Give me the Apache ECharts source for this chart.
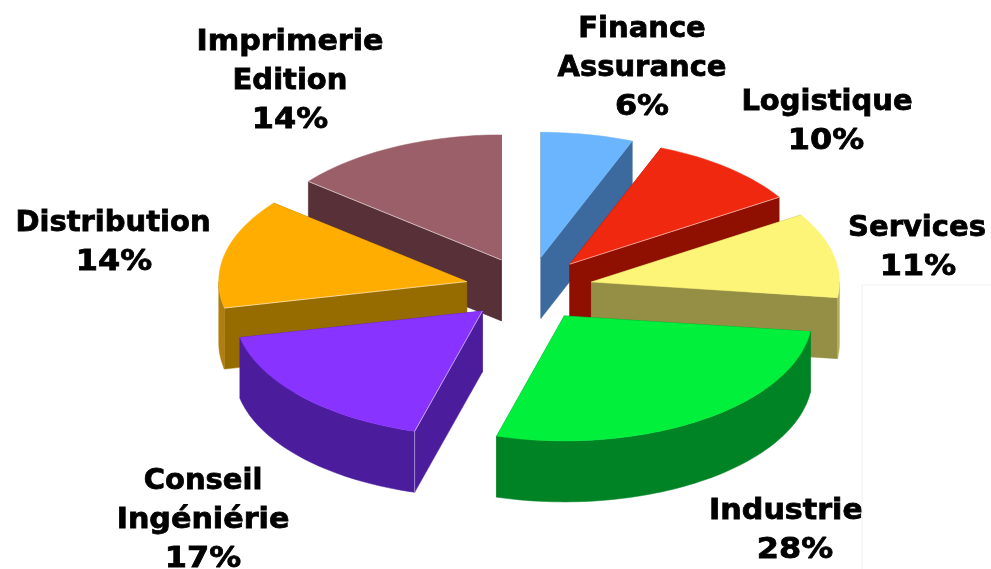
<!DOCTYPE html>
<meta charset='utf-8'>
<title>secteurs</title>
<style>
body {
    margin: 0;
    background: #fff;
}
#echart {
    height: 569px;
    width: 991px;
}
</style>
<div id='echart'></div>
<script src='https://cdn.jsdelivr.net/npm/echarts@6/dist/echarts.min.js'></script>
<script>
// clockwise from 12 o'clock
let names = ['Finance\nAssurance', 'Logistique', 'Services', 'Industrie', 'Conseil\nIngéniérie', 'Distribution', 'Imprimerie\nEdition']
let percent_labels = ['6%', '10%', '11%', '28%', '17%', '14%', '14%']
// shares as drawn (the printed labels are rounded)
let shares = [6, 10, 11, 27.4, 17.2, 14.2, 14.2]

let top_colors = ['#6bb5ff', '#f0280f', '#fdf577', '#00f03c', '#8833ff', '#ffad00', '#9a5f68']
let wall_colors = ['#3d6a9e', '#8f0f00', '#958f45', '#008325', '#4b1d9c', '#966b00', '#583038']
let arc_colors = ['#3d6a9e', '#8f0f00', '#b5ad5c', '#008325', '#4b1d9c', '#b07e10', '#583038']
// back to front
let draw_order = [0, 6, 1, 5, 2, 4, 3]
// which radial edge catches the light
let lit_edges = [null, 'end', null, null, 'start', 'start', 'start']
let label_centers = [[642, 29], [827, 102], [917, 228], [786, 511], [203, 481], [113, 223], [290, 42]]
let percent_x = [642, 826, 918, 795, 203, 114, 290]

let EXPLODE = 0.258
let DEPTH = 0.488
let ARC_STEP = 1.5
let LINE_HEIGHT = 39

let echart = echarts.init(document.querySelector('#echart'))

let cumulative = 0
let wedges = shares.map(function (share) {
    let start = cumulative / 100 * 360
    cumulative += share
    return [start, cumulative / 100 * 360]
})
let data = draw_order.map(function (i) {
    return [wedges[i][0], wedges[i][1], i]
})

function point(angle, radius, origin) {
    let rad = angle * Math.PI / 180
    return [origin[0] + radius * Math.sin(rad), origin[1] + radius * Math.cos(rad)]
}

function arc_points(from, to, origin, drop) {
    let points = []
    for (let a = from; a < to; a += ARC_STEP)
        points.push(point(a, 1, [origin[0], origin[1] - drop]))
    points.push(point(to, 1, [origin[0], origin[1] - drop]))
    return points
}

function render_slice(params, api) {
    let start = api.value(0)
    let end = api.value(1)
    let i = api.value(2)
    let apex = point((start + end) / 2, EXPLODE, [0, 0])
    let down = [apex[0], apex[1] - DEPTH]
    let shape = function (points, fill) {
        return {
            type: 'polygon',
            shape: {points: points.map(p => api.coord(p))},
            style: {fill, stroke: fill, lineWidth: 0.5},
            silent: true,
        }
    }
    let radial = function (angle) {
        return shape([apex, point(angle, 1, apex), point(angle, 1, down), down], wall_colors[i])
    }
    let children = [radial(start), radial(end)]
    // the curved wall only shows on the front half
    let arc_from = Math.max(start, 90)
    let arc_to = Math.min(end, 270)
    if (arc_from < arc_to)
        children.push(shape(arc_points(arc_from, arc_to, apex, 0).concat(arc_points(arc_from, arc_to, apex, DEPTH).reverse()), arc_colors[i]))
    children.push(shape([apex].concat(arc_points(start, end, apex, 0)), top_colors[i]))
    if (lit_edges[i]) {
        let angle = lit_edges[i] == 'end' ? end : start
        let outer = point(angle, 1, apex)
        children.push({
            type: 'polyline',
            shape: {points: [apex, outer].map(p => api.coord(p))},
            style: {stroke: 'rgba(255,255,255,0.55)', lineWidth: 1, fill: null},
            silent: true,
        })
        if (i == 4)
            children.push({
                type: 'polyline',
                shape: {points: [outer, point(angle, 1, down)].map(p => api.coord(p))},
                style: {stroke: 'rgba(255,255,255,0.45)', lineWidth: 1, fill: null},
                silent: true,
            })
    }
    return {type: 'group', children}
}

function label_line(text, x, y, scaleX) {
    return {
        type: 'text',
        x,
        y,
        scaleX,
        z: 10,
        silent: true,
        style: {
            text,
            fill: '#000',
            stroke: '#000',
            lineWidth: 0.8,
            font: 'bold 29px "DejaVu Sans"',
            align: 'center',
            verticalAlign: 'middle',
        },
    }
}

let labels = []
names.forEach(function (name, i) {
    let [x, y] = label_centers[i]
    let lines = name.split('\n')
    lines.forEach(function (line, n) {
        // the source font has a wider serifed I, and wider digits below
        labels.push(label_line(line, x, y + n * LINE_HEIGHT, line.startsWith('I') ? 1.04 : 1))
    })
    labels.push(label_line(percent_labels[i], percent_x[i], y + lines.length * LINE_HEIGHT, 1.1))
})

// pasted box that cuts the picture at the lower right
let box = {
    type: 'rect',
    z: 20,
    silent: true,
    shape: {x: 862, y: 285, width: 140, height: 300},
    style: {fill: '#fff', stroke: '#f0f0f0', lineWidth: 1},
}

let option = {
    animation: false,
    backgroundColor: '#fff',
    grid: {left: 33, top: 39, width: 942.4, height: 500},
    xAxis: {type: 'value', min: -2, max: 1.8, show: false},
    yAxis: {type: 'value', min: -2, max: 2, show: false},
    series: [{
        type: 'custom',
        coordinateSystem: 'cartesian2d',
        clip: false,
        silent: true,
        renderItem: render_slice,
        data,
        encode: {x: 0, y: 1},
    }],
    graphic: labels.concat([box]),
}
echart.setOption(option)
</script>
